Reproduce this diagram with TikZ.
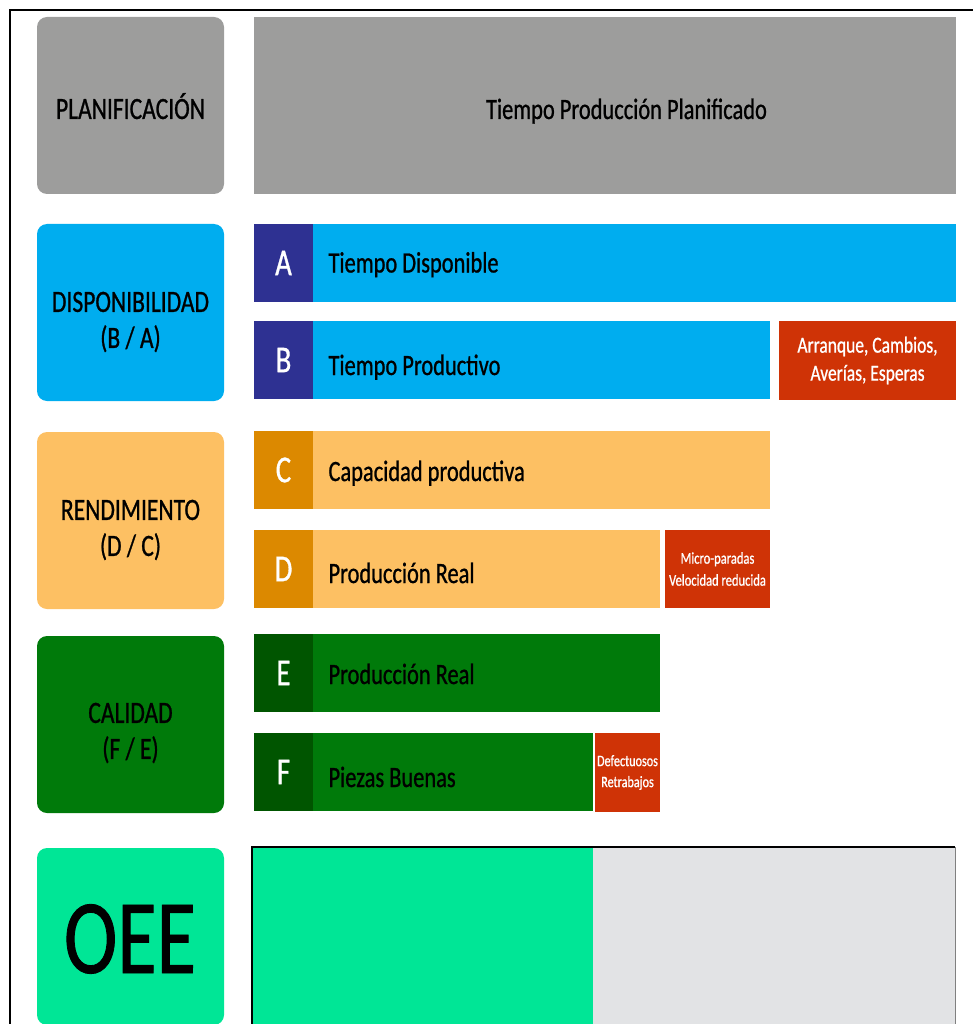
\documentclass[tikz,border=0pt]{standalone}
\usepackage{fontspec}
\setmainfont{Carlito}[FakeStretch=0.76, FakeBold=0.8]

\definecolor{plangray}{HTML}{9D9D9C}
\definecolor{dispblue}{HTML}{00ADEF}
\definecolor{dispnavy}{HTML}{2E3192}
\definecolor{rendlight}{HTML}{FDC063}
\definecolor{renddark}{HTML}{DC8900}
\definecolor{calgreen}{HTML}{007A0A}
\definecolor{caldark}{HTML}{005500}
\definecolor{lossred}{HTML}{CF3306}
\definecolor{oeegreen}{HTML}{00E696}
\definecolor{oeegray}{HTML}{E2E3E5}

\begin{document}
\begin{tikzpicture}[x=1pt, y=-1pt, anchor=north west]

    \tikzset{%
    every box/.style={
        inner sep=0pt,
        outer sep=0pt
        },
    side box/.style={
        every box,
        rounded corners=10pt,
        minimum width=187pt,
        minimum height=177pt
        },
    bar/.style={every box, minimum height=78pt},
    letter/.style={
        every box,
        minimum width=59pt,
        minimum height=78pt,
        text=white,
        font=\fontsize{38}{38}\selectfont
        },
    loss/.style={every box, fill=lossred, text=white, align=center},
    side text/.style={anchor=center, align=center, font=\fontsize{31}{36}\selectfont},
    bar text/.style={anchor=base west, font=\fontsize{29.5}{29.5}\selectfont},
    }

    \useasboundingbox (0,0) rectangle (973,1024);

    % Frame round the figure
    \draw [line width=2pt] (10,1030) -- (10,10) -- (980,10);

    % Left column boxes
    \node [side box, fill=plangray] (plan) at (37,17) {};
    \node [side box, fill=dispblue] (disp) at (37,224) {};
    \node [side box, fill=rendlight] (rend) at (37,432) {};
    \node [side box, fill=calgreen] (cal) at (37,636) {};
    \node [side box, fill=oeegreen] (oee) at (37,848) {};

    % Left column labels
    \node [anchor=base, font=\fontsize{31}{36}\selectfont] (plan-text) at (130.5,119) {PLANIFICACIÓN};
    \node [side text] (disp-text) at (130.5,322) {DISPONIBILIDAD\\(B / A)};
    \node [side text] (rend-text) at (130.5,530) {RENDIMIENTO\\(D / C)};
    \node [side text] (cal-text) at (130.5,733) {CALIDAD\\(F / E)};
    \node [anchor=base, font=\fontsize{106}{106}\selectfont] (oee-text) at (130,973) {OEE};

    % Planned time bar
    \node [every box, fill=plangray, minimum width=702pt, minimum height=177pt] (plan-bar) at (254,17) {};
    \node [anchor=base, font=\fontsize{29.5}{29.5}\selectfont] (plan-bar-text) at (626.5,119) {Tiempo Producción Planificado};

    % Rows A to F: bar, letter and label
    \foreach \l/\t/\w/\c/\d/\b/\txt in {%
        A/224/702/dispblue/dispnavy/272.5/Tiempo Disponible,
        B/321/516/dispblue/dispnavy/375/Tiempo Productivo,
        C/431/516/rendlight/renddark/481/Capacidad productiva,
        D/530/406/rendlight/renddark/583/Producción Real,
        E/634/406/calgreen/caldark/684/Producción Real,
        F/733/339/calgreen/caldark/787/Piezas Buenas}
    {
    \node [bar, fill=\c, minimum width=\w pt] (bar-\l) at (254,\t) {};
    \node [letter, fill=\d] (letter-\l) at (254,\t) {\l};
    \node [bar text] (text-\l) at (325,\b) {\txt};
    }

    % Losses
    \node [loss, minimum width=177pt, minimum height=79pt,
        font=\fontsize{23}{28}\selectfont] (loss-B) at (779,321)
        {Arranque, Cambios,\\Averías, Esperas};
    \node [loss, minimum width=105pt, minimum height=78pt,
        font=\fontsize{16.5}{22}\selectfont] (loss-D) at (665,530)
        {Micro-paradas\\Velocidad reducida};
    \node [loss, minimum width=65pt, minimum height=79pt,
        font=\fontsize{16}{21}\selectfont] (loss-F) at (595,733)
        {Defectuosos\\Retrabajos};

    % OEE bar
    \node [every box, fill=oeegray, minimum width=703pt, minimum height=190pt] (oee-bar) at (252,847) {};
    \node [every box, fill=oeegreen, minimum width=341pt, minimum height=190pt] (oee-fill) at (252,847) {};
    \draw [line width=2pt] (oee-bar.south west) -- (oee-bar.north west) -- (oee-bar.north east);
    \draw [gray, line width=1pt] (oee-bar.north east) -- (oee-bar.south east);

\end{tikzpicture}
\end{document}
